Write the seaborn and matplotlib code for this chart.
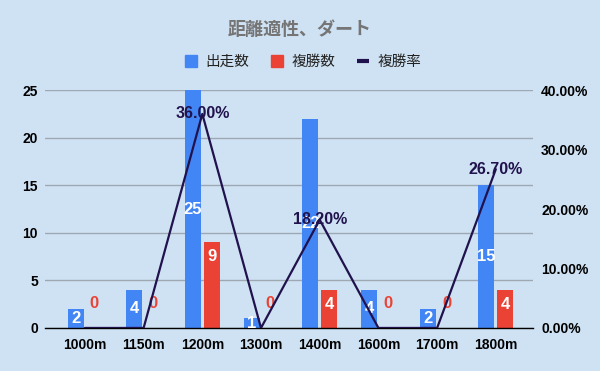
import matplotlib
matplotlib.use("Agg")
import matplotlib.pyplot as plt
from matplotlib.lines import Line2D
from matplotlib.ticker import FuncFormatter
import pandas as pd
import seaborn as sns

DISTANCES = ["1000m", "1150m", "1200m", "1300m", "1400m", "1600m", "1700m", "1800m"]
STARTS = [2, 4, 25, 1, 22, 4, 2, 15]
PLACES = [0, 0, 9, 0, 4, 0, 0, 4]
PLACE_RATE = [0, 0, 36.00, 0, 18.20, 0, 0, 26.70]
SERIES = ["出走数", "複勝数", "複勝率"]
TITLE = "距離適性、ダート"

BG = "#cfe2f3"
BLUE = "#4285f4"
RED = "#ea4335"
NAVY = "#20124d"
GRID = "#9ea8b3"

sns.set_theme(style="white")
plt.rcParams["font.family"] = ["Liberation Sans", "Noto Sans CJK JP"]

df = pd.DataFrame({
    "distance": DISTANCES * 2,
    "count": STARTS + PLACES,
    "series": [SERIES[0]] * len(DISTANCES) + [SERIES[1]] * len(DISTANCES),
})

fig = plt.figure(figsize=(6, 3.71), dpi=100, facecolor=BG)
ax = fig.add_axes([0.075, 0.116, 0.813, 0.641])
ax.set_facecolor(BG)

sns.barplot(data=df, x="distance", y="count", hue="series", palette=[BLUE, RED],
            width=0.64, gap=0.15, saturation=1, errorbar=None, legend=False,
            linewidth=0, ax=ax)

# bar labels
blue_bars, red_bars = ax.containers[0], ax.containers[1]
for bar, v in zip(blue_bars, STARTS):
    x = bar.get_x() + bar.get_width() / 2
    ax.text(x, v / 2, str(v), ha="center", va="center", color="white",
            fontsize=12, fontweight="bold", zorder=5)
for bar, v in zip(red_bars, PLACES):
    x = bar.get_x() + bar.get_width() / 2
    if v > 0:
        ax.text(x, v - 1.5, str(v), ha="center", va="center", color="white",
                fontsize=12, fontweight="bold", zorder=5)
    else:
        ax.text(x, 2.6, str(v), ha="center", va="center", color=RED,
                fontsize=12, fontweight="bold", zorder=5)

ax.set_ylim(0, 25)
ax.set_yticks(range(0, 26, 5))
ax.yaxis.grid(True, color=GRID, lw=1)
ax.set_axisbelow(True)
ax.set_xlabel("")
ax.set_ylabel("")
for s in ["top", "left", "right"]:
    ax.spines[s].set_visible(False)
ax.spines["bottom"].set_color("black")
ax.spines["bottom"].set_linewidth(1)
ax.tick_params(axis="x", length=0, pad=7, labelsize=10)
ax.tick_params(axis="y", length=0, pad=5, labelsize=10)
for lbl in ax.get_xticklabels() + ax.get_yticklabels():
    lbl.set_fontweight("bold")
    lbl.set_color("black")

# rate line on the right axis
ax2 = ax.twinx()
sns.lineplot(x=list(range(len(DISTANCES))), y=PLACE_RATE, color=NAVY, lw=1.6, ax=ax2)
ax2.set_ylim(0, 40)
ax2.set_yticks([0, 10, 20, 30, 40])
ax2.yaxis.set_major_formatter(FuncFormatter(lambda v, p: f"{v:.2f}%"))
ax2.tick_params(axis="y", length=0, pad=6, labelsize=10)
for lbl in ax2.get_yticklabels():
    lbl.set_fontweight("bold")
    lbl.set_color("black")
for s in ax2.spines.values():
    s.set_visible(False)
ax2.set_ylabel("")
for i, r in enumerate(PLACE_RATE):
    if r > 0:
        ax2.text(i, r, f"{r:.2f}%", ha="center", va="center", color=NAVY,
                 fontsize=11.5, fontweight="bold", zorder=6)

ax.set_xlim(-0.68, 7.63)
ax2.set_xlim(-0.68, 7.63)

fig.text(0.5, 0.919, TITLE, ha="center", va="center", fontsize=13,
         fontweight="bold", color="#757575")

handles = [
    Line2D([0], [0], marker="s", ls="", ms=9, color=BLUE),
    Line2D([0], [0], marker="s", ls="", ms=9, color=RED),
    Line2D([0], [0], marker="_", ls="", ms=9, mew=3, color=NAVY),
]
fig.legend(handles, SERIES, loc="center", bbox_to_anchor=(0.505, 0.833), ncol=3,
           frameon=False, fontsize=10.5, handlelength=0.8, handletextpad=0.6,
           columnspacing=1.5, labelcolor="#222222")

fig.savefig("out.png", dpi=100, facecolor=BG)
